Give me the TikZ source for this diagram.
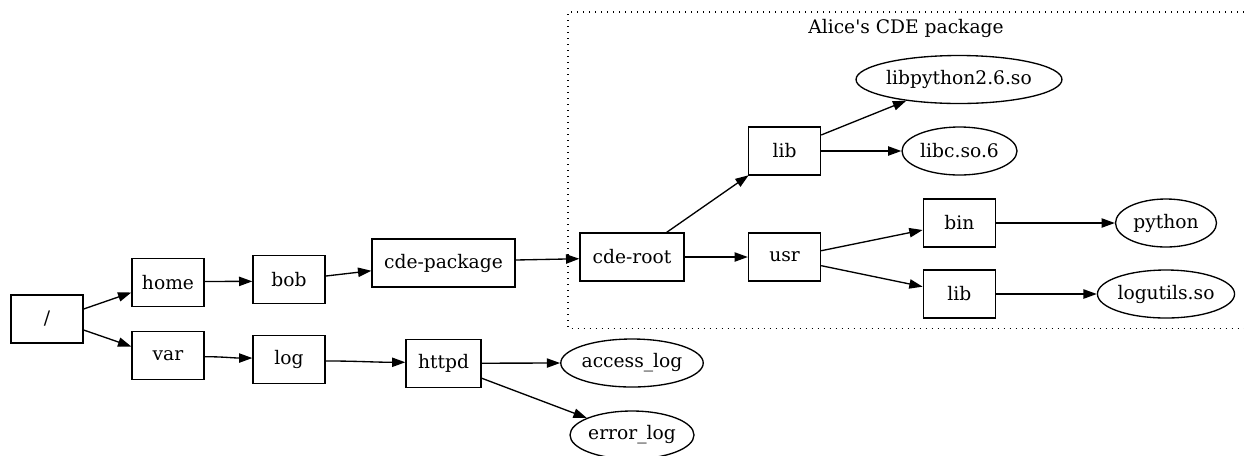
\documentclass[tikz,border=0pt]{standalone}
\usepackage{fontspec}
\setmainfont{DejaVu Serif}
\usetikzlibrary{shapes.geometric,arrows.meta}
\tikzset{
  box/.style={draw, rectangle, minimum height=36pt, inner sep=0pt, line width=1pt, font=\fontsize{14pt}{16pt}\selectfont},
  oval/.style={draw, ellipse, minimum height=36pt, inner sep=0pt, line width=1pt, font=\fontsize{14pt}{16pt}\selectfont},
  arr/.style={-{Triangle[length=10pt,width=7pt]}, line width=1pt},
  clusterline/.style={line width=1pt, dash pattern=on 0.9pt off 3.6pt}
}
\begin{document}
\begin{tikzpicture}[x=0.75pt,y=-0.75pt]
\useasboundingbox (0,0) rectangle (1244,455);
% cluster
\coordinate (ctr) at (1250,12);
\coordinate (ctl) at (568,12);
\coordinate (cbl) at (568,328.3);
\coordinate (cbr) at (1250,328.3);
\draw[clusterline] (ctr) -- (ctl) -- (cbl) -- (cbr);
\node[font=\fontsize{14pt}{16pt}\selectfont] (title) at (906,28) {Alice\textquotesingle s CDE package};
% nodes
\node[box, minimum width=54pt] (root) at (47,319) {/};
\node[box, minimum width=54pt] (home) at (168,282.5) {home};
\node[box, minimum width=54pt] (var) at (168,355.5) {var};
\node[box, minimum width=54pt] (bob) at (289,279.5) {bob};
\node[box, minimum width=54pt] (log) at (289,359.5) {log};
\node[box, minimum width=107.25pt] (pkg) at (443.5,263) {cde-package};
\node[box, minimum width=56.25pt] (httpd) at (443.5,363.2) {httpd};
\node[oval, minimum width=101pt] (access) at (632,363) {access\_log};
\node[oval, minimum width=93pt] (error) at (632,435) {error\_log};
\node[box, minimum width=78pt] (cderoot) at (632,257) {cde-root};
\node[box, minimum width=54pt] (lib) at (784.5,151) {lib};
\node[box, minimum width=54pt] (usr) at (784.5,257) {usr};
\node[oval, minimum width=138pt] (libpython) at (959,79.5) {libpython2.6.so};
\node[oval, minimum width=86.25pt] (libc) at (959.5,151) {libc.so.6};
\node[box, minimum width=54pt] (bin) at (959.3,223) {bin};
\node[box, minimum width=54pt] (libtwo) at (959.3,294) {lib};
\node[oval, minimum width=75.75pt] (python) at (1166,223) {python};
\node[oval, minimum width=102pt] (logutils) at (1166,294) {logutils.so};
% edges
\draw[arr] ([yshift=7.5pt]root.east) -- ([yshift=-7.5pt]home.west);
\draw[arr] ([yshift=-8.25pt]root.east) -- ([yshift=6.75pt]var.west);
\draw[arr] ([yshift=0.8pt]home.east) -- ([yshift=-1.4pt]bob.west);
\draw[arr] ([yshift=2.6pt]bob.east) -- ([yshift=-5.8pt]pkg.west);
\draw[arr] ([yshift=-0.9pt]var.east) to[out=0,in=180] ([yshift=1.1pt]log.west);
\draw[arr] ([yshift=-1.1pt]log.east) to[out=0,in=180] ([yshift=0.7pt]httpd.west);
\draw[arr] ([yshift=2.25pt]pkg.east) -- ([yshift=-1.3pt]cderoot.west);
\draw[arr] (httpd.east) -- (access.west);
\draw[arr] ([yshift=-11.25pt]httpd.east) -- (error);
\draw[arr] ([xshift=26pt]cderoot.north) -- ([xshift=0.6pt,yshift=0.3pt]lib.south west);
\draw[arr] (cderoot.east) -- (usr.west);
\draw[arr] ([yshift=4.7pt]usr.east) -- ([yshift=-5.25pt]bin.west);
\draw[arr] ([yshift=-6.5pt]usr.east) -- ([yshift=5.5pt]libtwo.west);
\draw[arr] ([yshift=12pt]lib.east) -- (libpython);
\draw[arr] (lib.east) -- (libc.west);
\draw[arr] (bin.east) -- (python.west);
\draw[arr] (libtwo.east) -- (logutils.west);
\end{tikzpicture}
\end{document}
